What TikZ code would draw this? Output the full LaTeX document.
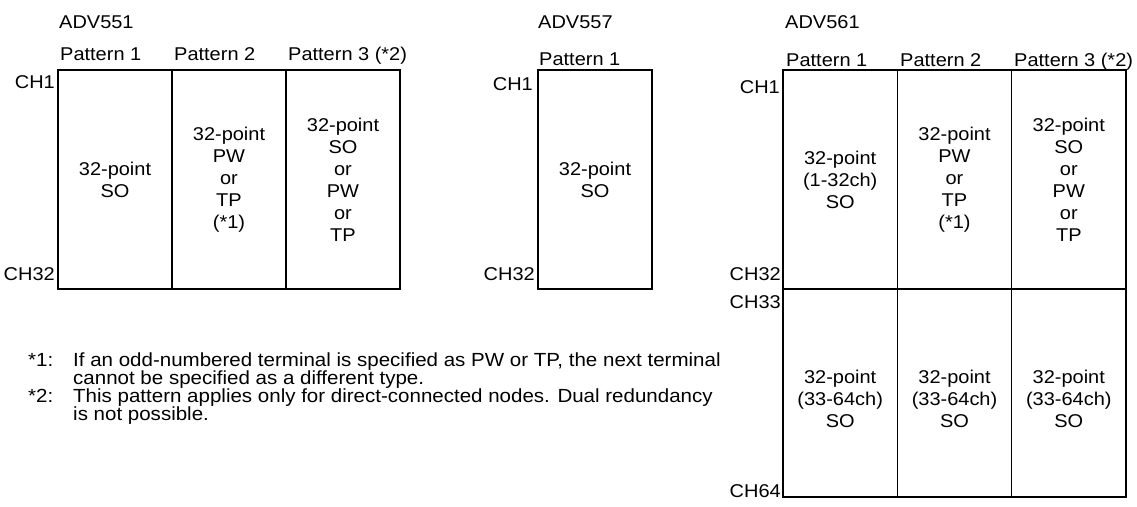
\documentclass[tikz,border=0pt]{standalone}
\usepackage{fontspec}
\setmainfont{Liberation Sans}[FakeStretch=1.08]
\usetikzlibrary{positioning}

\tikzset{
  txt/.style={inner sep=0pt, font=\fontsize{18.5}{22}\selectfont},
  celltxt/.style={txt, align=center},
  cell/.style={draw, line width=1.5pt, inner sep=0pt, align=center,
    font=\fontsize{18.5}{22}\selectfont},
  title/.style={txt, anchor=base west},
  head/.style={txt, anchor=base west},
  chlabel/.style={txt, anchor=base east},
  note/.style={inner sep=0pt, anchor=base west, align=left,
    font=\fontsize{19}{18}\selectfont},
}

\begin{document}
\begin{tikzpicture}[x=1pt, y=-1pt]
    \useasboundingbox (0,0) rectangle (1137,506);

    % ADV551
    \node[title] (t551) at (59,28) {ADV551};
    \node[head] (h551a) at (60,60) {Pattern 1};
    \node[head] (h551b) at (174,60) {Pattern 2};
    \node[head] (h551c) at (288,60) {Pattern 3 (*2)};
    \node[cell, minimum width=114, minimum height=219] (c551a) at (115,179.5) {32-point\\SO};
    \node[cell, minimum width=114, minimum height=219] (c551b) at (229,179.5) {32-point\\PW\\or\\TP\\(*1)};
    \node[cell, minimum width=114, minimum height=219] (c551c) at (343,179.5) {32-point\\SO\\or\\PW\\or\\TP};
    \node[chlabel] (ch551a) at (55,88) {CH1};
    \node[chlabel] (ch551b) at (55,280) {CH32};

    % ADV557
    \node[title] (t557) at (538,28) {ADV557};
    \node[head] (h557a) at (539,65) {Pattern 1};
    \node[cell, minimum width=114, minimum height=219] (c557a) at (595,179.5) {32-point\\SO};
    \node[chlabel] (ch557a) at (533,90) {CH1};
    \node[chlabel] (ch557b) at (535,280) {CH32};

    % ADV561
    \node[title] (t561) at (785,28) {ADV561};
    \node[head] (h561a) at (786,66) {Pattern 1};
    \node[head] (h561b) at (900,66) {Pattern 2};
    \node[head] (h561c) at (1014,66) {Pattern 3 (*2)};
    \node[cell, minimum width=114.3, minimum height=219] (c561a) at (840.2,179.5) {32-point\\(1-32ch)\\SO};
    \node[cell, minimum width=114.3, minimum height=219] (c561b) at (954.5,179.5) {32-point\\PW\\or\\TP\\(*1)};
    \node[cell, minimum width=114.3, minimum height=219] (c561c) at (1068.8,179.5) {32-point\\SO\\or\\PW\\or\\TP};
    \node[cell, minimum width=114.3, minimum height=208] (c561d) at (840.2,393) {};
    \node[cell, minimum width=114.3, minimum height=208] (c561e) at (954.5,393) {};
    \node[cell, minimum width=114.3, minimum height=208] (c561f) at (1068.8,393) {};
    \node[celltxt] (s561d) at ([yshift=-6pt]c561d.center) {32-point\\(33-64ch)\\SO};
    \node[celltxt] (s561e) at ([yshift=-6pt]c561e.center) {32-point\\(33-64ch)\\SO};
    \node[celltxt] (s561f) at ([yshift=-6pt]c561f.center) {32-point\\(33-64ch)\\SO};
    \node[chlabel] (ch561a) at (780,93) {CH1};
    \node[chlabel] (ch561b) at (781,280) {CH32};
    \node[chlabel] (ch561c) at (781,308) {CH33};
    \node[chlabel] (ch561d) at (781,497) {CH64};

    % notes (base = last line)
    \node[note] (n1) at (28,366) {*1:};
    \node[note] (n1txt) at (73,384) {If an odd-numbered terminal is specified as PW or TP, the next terminal\\cannot be specified as a different type.};
    \node[note] (n2) at (28,402) {*2:};
    \node[note] (n2txt) at (73,420) {This pattern applies only for direct-connected nodes. Dual redundancy\\is not possible.};
\end{tikzpicture}
\end{document}
